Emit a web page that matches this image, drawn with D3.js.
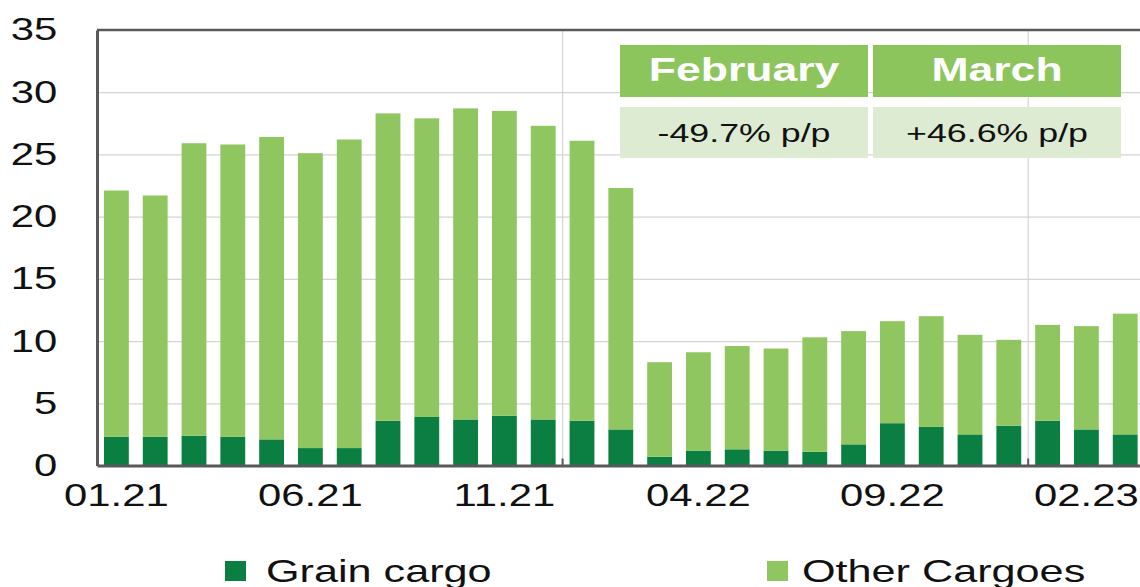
<!DOCTYPE html>
<html>
<head>
<meta charset="utf-8">
<script src="https://cdn.jsdelivr.net/npm/d3@7"></script>
<style>
  html, body { margin: 0; padding: 0; background: #fff; overflow: hidden; }
  svg { display: block; font-family: "Liberation Sans", Arial, sans-serif; }
</style>
</head>
<body>
<svg id="chart" width="1140" height="587"></svg>
<script>
// ---------------- data ----------------
const months = ["01.21","02.21","03.21","04.21","05.21","06.21","07.21","08.21","09.21","10.21","11.21","12.21",
                "01.22","02.22","03.22","04.22","05.22","06.22","07.22","08.22","09.22","10.22","11.22","12.22",
                "01.23","02.23","03.23"];
const grain = [2.3, 2.3, 2.4, 2.3, 2.1, 1.4, 1.4, 3.6, 3.9, 3.7, 4.0, 3.7, 3.6, 2.9,
               0.7, 1.2, 1.3, 1.2, 1.1, 1.7, 3.4, 3.1, 2.5, 3.2, 3.6, 2.9, 2.5];
const other = [19.8, 19.4, 23.5, 23.5, 24.3, 23.7, 24.8, 24.7, 24.0, 25.0, 24.5, 23.6, 22.5, 19.4,
               7.6, 7.9, 8.3, 8.2, 9.2, 9.1, 8.2, 8.9, 8.0, 6.9, 7.7, 8.3, 9.7];
const seriesNames = ["Grain cargo", "Other Cargoes"];
const yTicks = [0, 5, 10, 15, 20, 25, 30, 35];
const xTickLabels = ["01.21", "06.21", "11.21", "04.22", "09.22", "02.23"];
const yearStarts = ["01.22", "01.23"];
const tableHeaders = ["February", "March"];
const tableValues = ["-49.7% p/p", "+46.6% p/p"];

// ---------------- style ----------------
const colors = { grain: "#0b7f42", other: "#90c660", header: "#8cc55b", cell: "#dcebd2",
                 axis: "#595959", grid: "#d4d4d4" };
const SX = 1.35; // horizontal text stretch of the original
const plotL = 97, plotR = 1144.6, plotT = 30, plotB = 465.5;

const svg = d3.select("#chart");

const x = d3.scaleBand().domain(months).range([plotL, plotR]).paddingInner(0.36).paddingOuter(0.18);
const y = d3.scaleLinear().domain([0, 35]).range([plotB, plotT]);

// horizontal gridlines
svg.append("g")
  .attr("transform", `translate(${plotL},0)`)
  .call(d3.axisLeft(y).tickValues(yTicks.filter(t => t > 0 && t < 35)).tickSize(-(plotR - plotL)).tickFormat(""))
  .call(g => g.select(".domain").remove())
  .selectAll("line").attr("stroke", colors.grid).attr("stroke-width", 1.2);

// vertical year gridlines
const boundary = m => x(m) - x.step() * x.paddingInner() / 2;
svg.append("g").selectAll("line").data(yearStarts).join("line")
  .attr("x1", boundary).attr("x2", boundary)
  .attr("y1", plotT).attr("y2", plotB)
  .attr("stroke", colors.grid).attr("stroke-width", 1.2);

// stacked bars
const rows = months.map((m, i) => ({ month: m, grain: grain[i], other: other[i] }));
const stack = d3.stack().keys(["grain", "other"])(rows);
svg.append("g").selectAll("g").data(stack).join("g")
  .attr("fill", d => colors[d.key])
  .selectAll("rect").data(d => d).join("rect")
  .attr("x", d => x(d.data.month))
  .attr("width", x.bandwidth())
  .attr("y", d => y(d[1]))
  .attr("height", d => y(d[0]) - y(d[1]));

// small ticks at year boundaries
svg.append("g").selectAll("line").data(yearStarts).join("line")
  .attr("x1", boundary).attr("x2", boundary)
  .attr("y1", plotB - 7).attr("y2", plotB)
  .attr("stroke", colors.axis).attr("stroke-width", 2);

// top border
svg.append("line").attr("x1", plotL).attr("x2", plotR).attr("y1", plotT).attr("y2", plotT)
  .attr("stroke", colors.axis).attr("stroke-width", 2.5);

// y axis
svg.append("g")
  .attr("transform", `translate(${plotL},0)`)
  .call(d3.axisLeft(y).tickValues(yTicks).tickSize(0).tickSizeOuter(0).tickPadding(29.5))
  .call(g => g.select(".domain").attr("stroke", colors.axis).attr("stroke-width", 3))
  .call(g => g.selectAll("text")
     .attr("font-size", 31).attr("fill", "#111")
     .attr("font-family", "Liberation Sans, Arial, sans-serif")
     .attr("transform", `scale(${SX},1)`));

// x axis
svg.append("g")
  .attr("transform", `translate(0,${plotB})`)
  .call(d3.axisBottom(x).tickValues(xTickLabels).tickSize(0).tickSizeOuter(0).tickPadding(19))
  .call(g => g.select(".domain").attr("stroke", colors.axis).attr("stroke-width", 3))
  .call(g => g.selectAll("text")
     .attr("font-size", 31).attr("fill", "#111")
     .attr("font-family", "Liberation Sans, Arial, sans-serif")
     .attr("transform", `scale(${SX},1)`));

// table (top right)
const tX = 620, tW = 248, tGap = 5, hY = 45, hH = 52, vY = 107, vH = 51;
const tbl = svg.append("g");
tbl.selectAll("rect.h").data(tableHeaders).join("rect").attr("class", "h")
  .attr("x", (d, i) => tX + i * (tW + tGap)).attr("y", hY)
  .attr("width", tW).attr("height", hH).attr("fill", colors.header);
tbl.selectAll("rect.v").data(tableValues).join("rect").attr("class", "v")
  .attr("x", (d, i) => tX + i * (tW + tGap)).attr("y", vY)
  .attr("width", tW).attr("height", vH).attr("fill", colors.cell);
tbl.selectAll("text.h").data(tableHeaders).join("text").attr("class", "h")
  .attr("transform", (d, i) => `translate(${tX + i * (tW + tGap) + tW / 2},81) scale(${SX},1)`)
  .attr("text-anchor", "middle").attr("font-size", 33).attr("font-weight", "bold")
  .attr("fill", "#fff").text(d => d);
tbl.selectAll("text.v").data(tableValues).join("text").attr("class", "v")
  .attr("transform", (d, i) => `translate(${tX + i * (tW + tGap) + tW / 2},142) scale(${SX},1)`)
  .attr("text-anchor", "middle").attr("font-size", 26.5)
  .attr("fill", "#111").text(d => d);

// legend
const legendX = [225, 767];
const legendColors = [colors.grain, colors.other];
const lg = svg.append("g");
lg.selectAll("rect").data(seriesNames).join("rect")
  .attr("x", (d, i) => legendX[i]).attr("y", 561)
  .attr("width", 21).attr("height", 20)
  .attr("fill", (d, i) => legendColors[i]);
lg.selectAll("text").data(seriesNames).join("text")
  .attr("transform", (d, i) => `translate(${legendX[i] + (i === 0 ? 41 : 35)},582) scale(${SX},1)`)
  .attr("font-size", 32).attr("fill", "#111").text(d => d);
</script>
</body>
</html>
